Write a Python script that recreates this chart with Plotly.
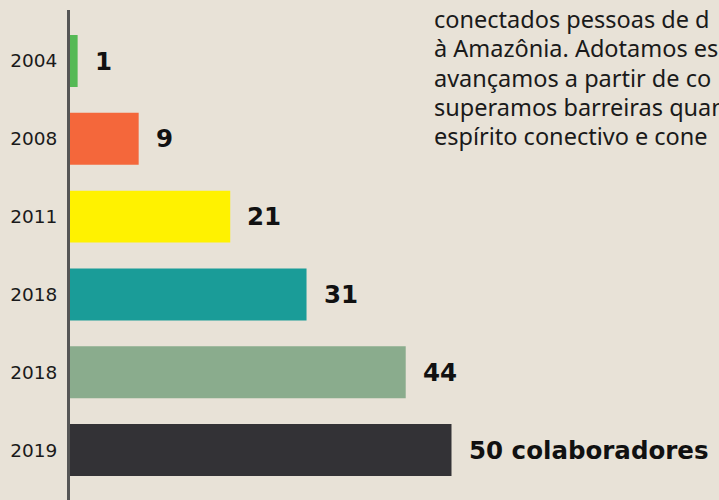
import plotly.graph_objects as go

years = ["2004", "2008", "2011", "2018", "2018", "2019"]
values = [1, 9, 21, 31, 44, 50]
value_labels = ["1", "9", "21", "31", "44", "50 colaboradores"]
colors = ["#55b955", "#f4673b", "#fff200", "#1a9c98", "#8aac8d", "#333236"]
paragraph = [
    "conectados pessoas de d",
    "à Amazônia. Adotamos es",
    "avançamos a partir de co",
    "superamos barreiras quan",
    "espírito conectivo e cone",
]

BG = "#e8e2d7"
idx = list(range(len(years)))

fig = go.Figure()
fig.add_trace(go.Bar(
    x=values, y=idx, orientation="h",
    marker=dict(color=colors, line=dict(width=0)),
    hoverinfo="skip",
))

for i, (v, lab) in enumerate(zip(values, value_labels)):
    fig.add_annotation(
        x=v, y=i, xref="x", yref="y", text="<b>" + lab + "</b>",
        showarrow=False, xanchor="left", yanchor="middle", xshift=15,
        font=dict(family="DejaVu Sans", size=24.5, color="#111111"),
    )

W, H, L, T = 719, 500, 70, 10
PW, PH = W - L, H - T
for k, line in enumerate(paragraph):
    py = 29.5 + 29.5 * k  # baseline pixel
    fig.add_annotation(
        x=(432 - L) / PW, y=1 - (py - T) / PH, xref="paper", yref="paper",
        text=line, showarrow=False, xanchor="left", yanchor="bottom", yshift=-7,
        font=dict(family="Noto Sans", size=23.5, color="#1a1a1a"),
    )

fig.update_layout(
    width=W, height=H,
    margin=dict(l=L, r=0, t=T, b=0, autoexpand=False),
    paper_bgcolor=BG, plot_bgcolor=BG,
    showlegend=False,
    bargap=0.332,
    xaxis=dict(range=[0, PW / 7.63], visible=False, fixedrange=True,
               automargin=False),
    yaxis=dict(
        range=[5.642, -0.6555], automargin=False, fixedrange=True,
        tickvals=idx, ticktext=years,
        showline=True, linecolor="#555555", linewidth=3,
        showgrid=False, zeroline=False, ticks="",
        ticklabelstandoff=6,
        tickfont=dict(family="DejaVu Sans", size=18.5, color="#1a1a1a"),
    ),
)

fig.write_html(
    "out.html",
    config={"displayModeBar": False},
    post_script="document.body.style.margin='0';document.body.style.background='" + BG + "';",
)
